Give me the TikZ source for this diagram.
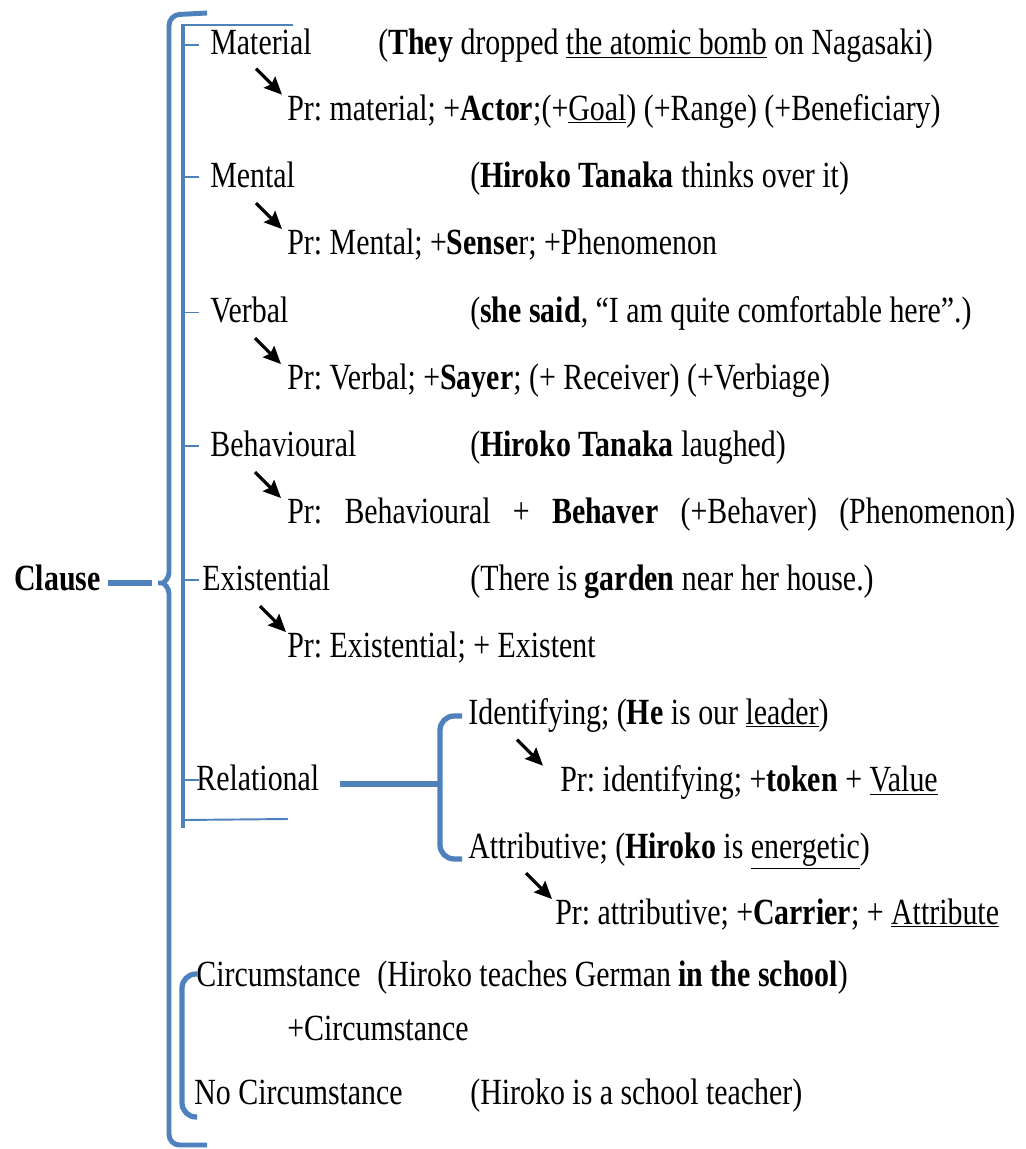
\documentclass[tikz,border=0pt]{standalone}
\usepackage{fontspec}
\setmainfont[FakeStretch=0.81]{Liberation Serif}
\usepackage{tikz}
\usetikzlibrary{positioning, arrows.meta, calc}
\definecolor{BraceBlue}{RGB}{79,129,189}
\frenchspacing
\tikzset{
  lab/.style={anchor=base west, inner sep=0pt, font=\fontsize{21}{25}\selectfont},
  outerbrace/.style={draw=BraceBlue, line width=2.8pt, rounded corners=6pt},
  innerbar/.style={draw=BraceBlue, line width=2.2pt},
  thinbar/.style={draw=BraceBlue, line width=1.1pt},
  subbrace/.style={draw=BraceBlue, line width=3pt, rounded corners=8pt},
  prarrow/.style={-{Stealth[length=10pt,width=9pt,inset=1.5pt]}, line width=1.8pt, black},
}

\begin{document}
\begin{tikzpicture}[x=0.02cm, y=-0.02cm]
  \useasboundingbox (0,0) rectangle (1026,1149);
  % process types
  \node[lab] (matl) at (210,55) {Material};
  \node[lab] (matex) at (378,55) {(\textbf{They} dropped \underline{the atomic bomb} on Nagasaki)};
  \node[lab] (matpr) at (287,120) {Pr: material; +\textbf{Actor};(+\underline{Goal}) (+Range) (+Beneficiary)};
  \node[lab] (ment) at (210,187) {Mental};
  \node[lab] (mentex) at (470,187) {(\textbf{Hiroko Tanaka} thinks over it)};
  \node[lab] (mentpr) at (287,254) {Pr: Mental; +\textbf{Sense}r; +Phenomenon};
  \node[lab] (verb) at (210,322) {Verbal};
  \node[lab] (verbex) at (470,322) {(\textbf{she said}, “I am quite comfortable here”.)};
  \node[lab] (verbpr) at (287,389) {Pr: Verbal; +\textbf{Sayer}; (+ Receiver) (+Verbiage)};
  \node[lab] (behav) at (210,456) {Behavioural};
  \node[lab] (behavex) at (470,456) {(\textbf{Hiroko Tanaka} laughed)};
  \node[lab] (behavpr) at (287,523) {\makebox[14.56cm][s]{Pr: Behavioural + \textbf{Behaver} (+Behaver) (Phenomenon)}};
  \node[lab] (exis) at (202,590) {Existential};
  \node[lab] (exisex) at (470,590) {(There is \textbf{garden} near her house.)};
  \node[lab] (exispr) at (287,657) {Pr: Existential; + Existent};
  \node[lab] (rela) at (196,790) {Relational};
  \node[lab] (ident) at (468,724) {Identifying; (\textbf{He} is our \underline{leader})};
  \node[lab] (identpr) at (560,791) {Pr: identifying; +\textbf{token} + \underline{Value}};
  \node[lab] (attr) at (468,858) {Attributive; (\textbf{Hiroko} is \underline{energetic})};
  \node[lab] (attrpr) at (555,924) {Pr: attributive; +\textbf{Carrier}; + \underline{Attribute}};
  % circumstance
  \node[lab] (circ) at (196,986) {Circumstance};
  \node[lab] (circex) at (377,986) {(Hiroko teaches German \textbf{in the school})};
  \node[lab] (circpr) at (287,1040) {+Circumstance};
  \node[lab] (nocirc) at (194,1104) {No Circumstance};
  \node[lab] (nocircex) at (470,1104) {(Hiroko is a school teacher)};
  \node[lab, font=\fontsize{21}{25}\selectfont\bfseries] (clause) at (14,590) {Clause};

  % outer brace
  \coordinate (tip) at (152,583);
  \draw[outerbrace] (207,13) -- (169,15) -- (169,562)
    .. controls (169,578) and (164,583) .. (tip)
    .. controls (164,583) and (169,588) .. (169,604) -- (169,1145) -- (207,1145);
  \draw[outerbrace, line width=3.4pt] ($(clause.east |- tip)+(7,0)$) -- (tip);

  % inner bar with ticks
  \draw[innerbar] (183,26) -- (183,828);
  \draw[thinbar] (181,25) -- (293,25);
  \draw[thinbar] (183,820) -- (288,819);
  \coordinate (ticl) at (185,0);
  \coordinate (ticr) at (199,0);
  \foreach \n in {matl,ment,verb,behav,exis,rela}
    \draw[thinbar] ($(ticl |- \n.west)+(0,3)$) -- ($(ticr |- \n.west)+(0,3)$);

  % relational split
  \coordinate (relknot) at (440,784);
  \draw[subbrace, line width=3.6pt] ($(rela.east |- relknot)+(20,0)$) -- (relknot);
  \draw[subbrace] ($(ident.west)+(-6,1)$) -| (relknot) |- ($(attr.west)+(-6,8)$);

  % circumstance split
  \coordinate (circbot) at ($(nocirc.base west)+(3,13)$);
  \draw[subbrace] ($(circ.west)+(1,0)$) -| ($(circbot)+(-15,0)$) -- (circbot);

  % arrows to the Pr lines
  \foreach \p/\g in {matpr/5,mentpr/5,verbpr/6,behavpr/6,exispr/1,identpr/17,attrpr/3}
    \draw[prarrow] ($(\p.north west)+(-\g-26,-25)$) -- ($(\p.north west)+(-\g,1)$);
\end{tikzpicture}
\end{document}
